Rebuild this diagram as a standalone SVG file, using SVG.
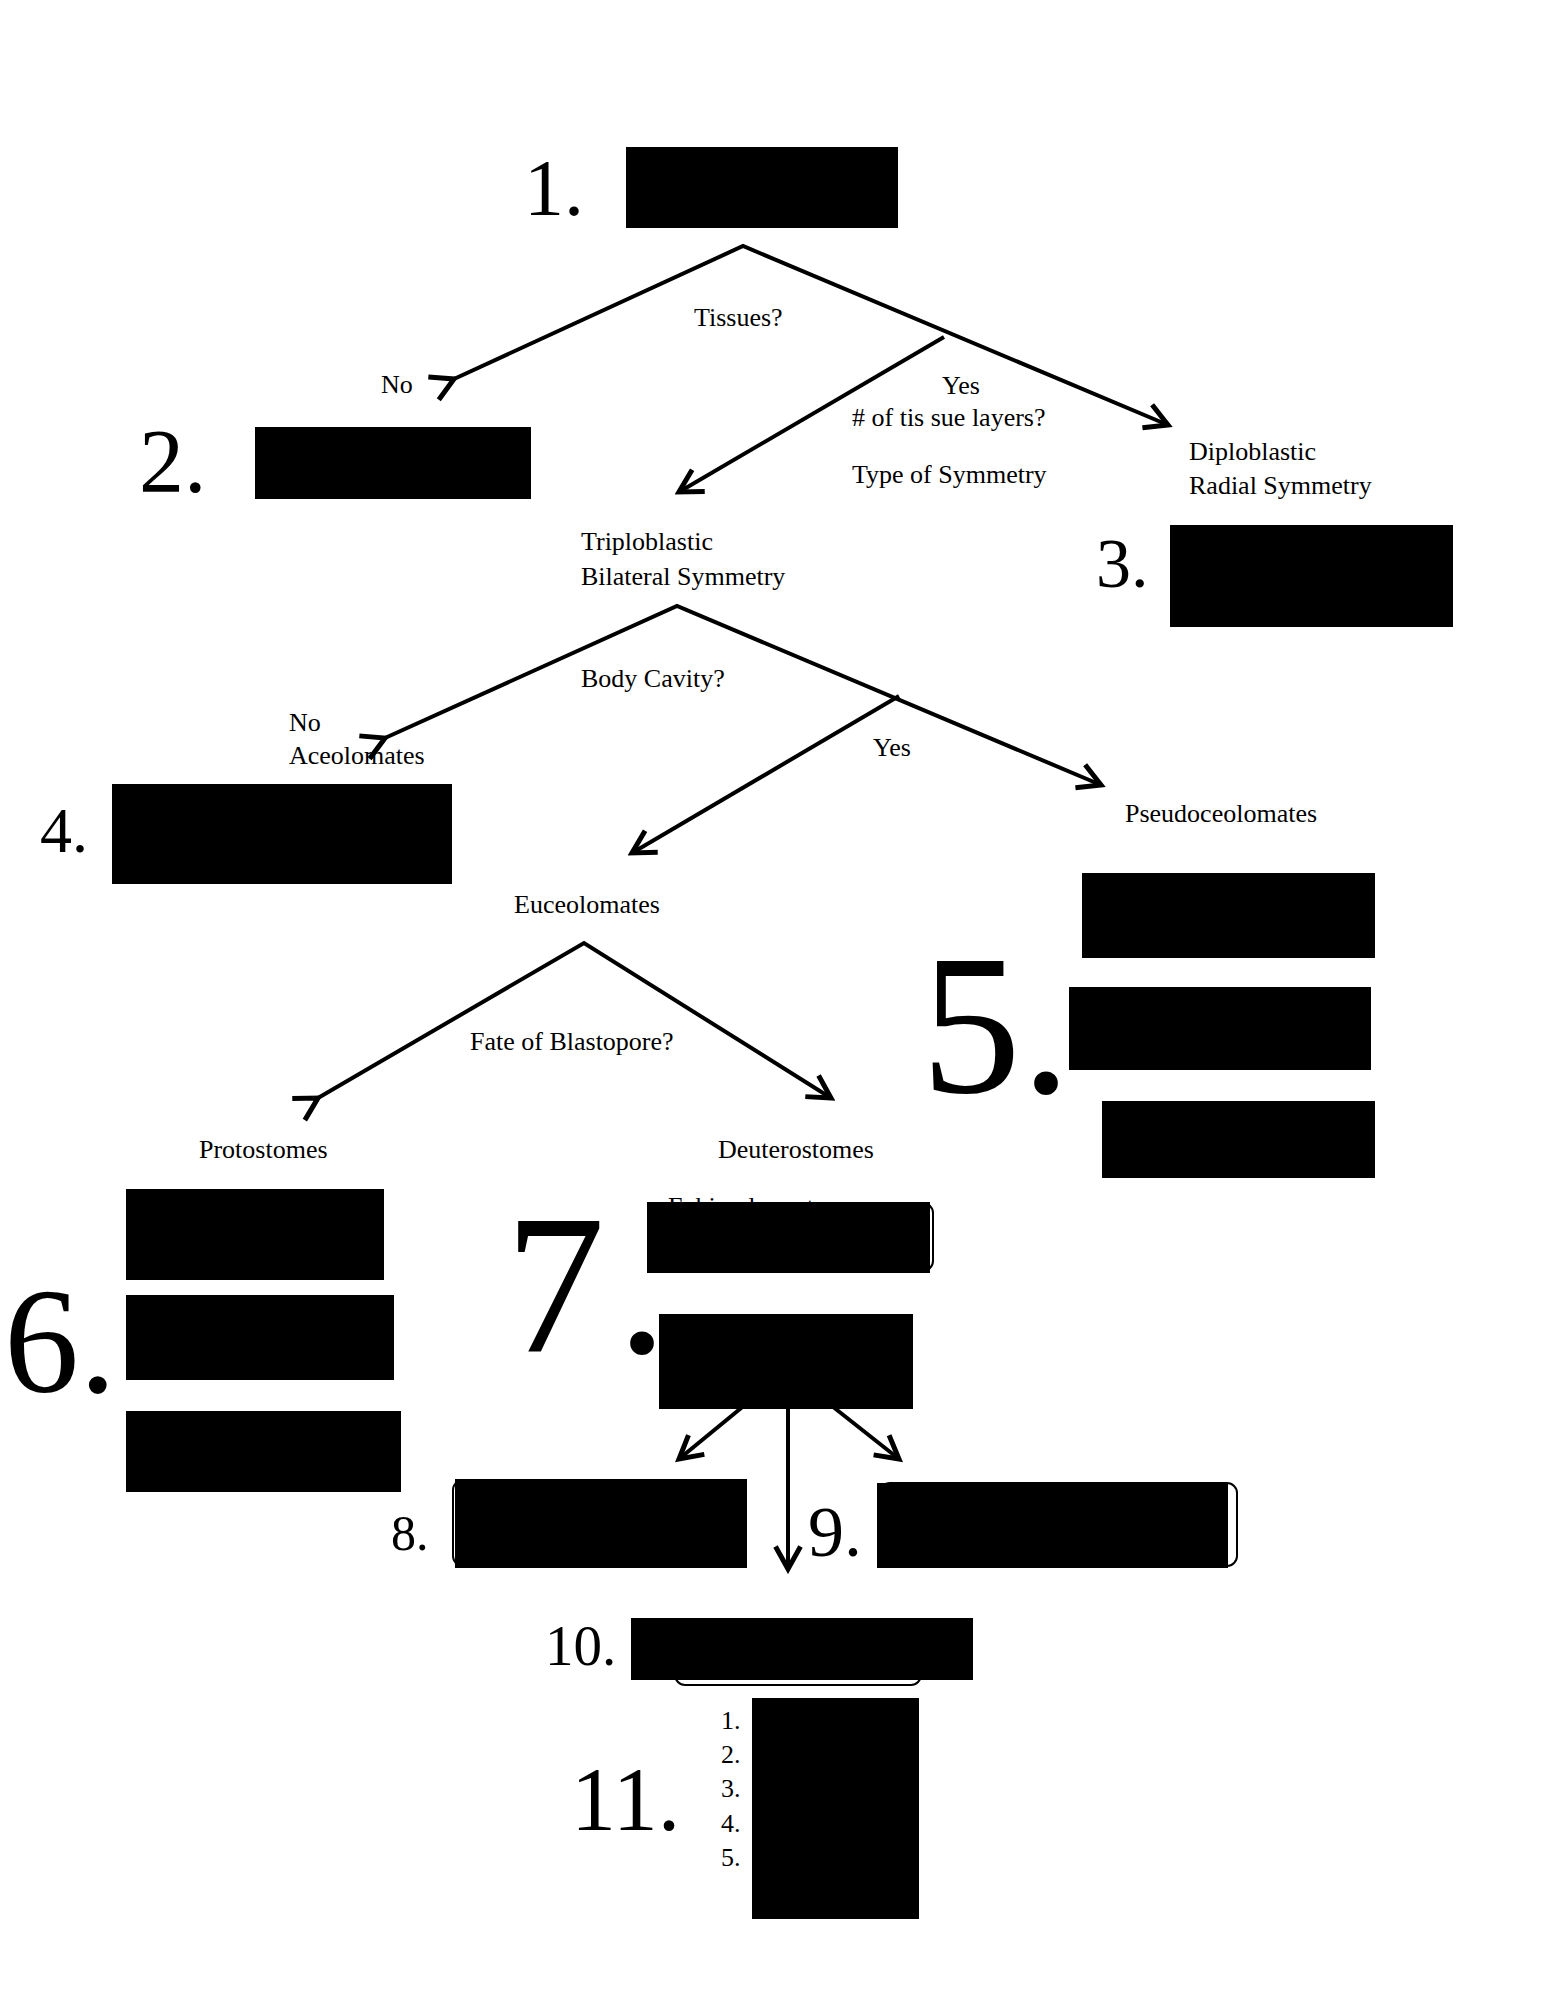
<svg xmlns="http://www.w3.org/2000/svg" width="1545" height="2000" viewBox="0 0 1545 2000">
<style>
text{font-family:"Liberation Serif","DejaVu Serif",serif;fill:#000}
.t{font-size:26px}
.b{fill:#000}
.c{stroke:#000;stroke-width:4;fill:none}
.o{stroke:#000;stroke-width:2;fill:none}
</style>
<defs>
<marker id="a" markerUnits="userSpaceOnUse" markerWidth="30" markerHeight="30" refX="20" refY="12" orient="auto" viewBox="0 0 24 24">
<path d="M2,2 L20,12 L2,22" fill="none" stroke="#000" stroke-width="4"/>
</marker>
</defs>
<rect width="1545" height="2000" fill="#fff"/>
<g id="connectors">
<polyline class="c" points="454,379 743,246 1168,425" marker-start="url(#a)" marker-end="url(#a)"/>
<line class="c" x1="944" y1="337" x2="679" y2="492" marker-end="url(#a)"/>
<polyline class="c" points="385,738 677,606 1101,785" marker-start="url(#a)" marker-end="url(#a)"/>
<line class="c" x1="899" y1="696" x2="632" y2="853" marker-end="url(#a)"/>
<polyline class="c" points="318,1098 584,943 831,1098" marker-start="url(#a)" marker-end="url(#a)"/>
<line class="c" x1="757" y1="1395" x2="679" y2="1459" marker-end="url(#a)"/>
<line class="c" x1="788" y1="1395" x2="788" y2="1569" marker-end="url(#a)"/>
<line class="c" x1="818" y1="1395" x2="899" y2="1459" marker-end="url(#a)"/>
</g>
<g id="labels">
<text class="t" x="694" y="326">Tissues?</text>
<text class="t" x="381" y="393">No</text>
<text class="t" x="942" y="394">Yes</text>
<text class="t" x="852" y="426"># of tis sue layers?</text>
<text class="t" x="852" y="483">Type of Symmetry</text>
<text class="t" x="581" y="687">Body Cavity?</text>
<text class="t" x="873" y="756">Yes</text>
<text class="t" x="470" y="1050">Fate of Blastopore?</text>
</g>
<g id="n1"><text x="524" y="215" font-size="80">1.</text><rect class="b" x="626" y="147" width="272" height="81"/></g>
<g id="n2"><text x="139" y="492" font-size="90">2.</text><rect class="b" x="255" y="427" width="276" height="72"/></g>
<g id="diplo"><text class="t" x="1189" y="460">Diploblastic</text><text class="t" x="1189" y="494">Radial Symmetry</text></g>
<g id="n3"><text x="1096" y="587" font-size="70">3.</text><rect class="b" x="1170" y="525" width="283" height="102"/></g>
<g id="triplo"><text class="t" x="581" y="550">Triploblastic</text><text class="t" x="581" y="585">Bilateral Symmetry</text></g>
<g id="acoel"><text class="t" x="289" y="731">No</text><text class="t" x="289" y="764">Aceolomates</text></g>
<g id="pseudo"><text class="t" x="1125" y="822">Pseudoceolomates</text></g>
<g id="n4"><text x="40" y="852" font-size="64">4.</text><rect class="b" x="112" y="784" width="340" height="100"/></g>
<g id="euc"><text class="t" x="514" y="913">Euceolomates</text></g>
<g id="n5"><text x="921" y="1092" font-size="200">5.</text>
<rect class="b" x="1082" y="873" width="293" height="85"/><rect class="b" x="1069" y="987" width="302" height="83"/><rect class="b" x="1102" y="1101" width="273" height="77"/></g>
<g id="proto"><text class="t" x="199" y="1158">Protostomes</text></g>
<g id="deut"><text class="t" x="718" y="1158">Deuterostomes</text></g>
<g id="n6"><text x="4" y="1392" font-size="150">6.</text>
<rect class="b" x="126" y="1189" width="258" height="91"/><rect class="b" x="126" y="1295" width="268" height="85"/><rect class="b" x="126" y="1411" width="275" height="81"/></g>
<g id="n7"><text x="505" y="1352" font-size="200">7<tspan dx="12">.</tspan></text>
<text class="t" x="668" y="1215" font-size="30">Echinodermata</text>
<rect class="o" x="660" y="1203" width="273" height="68" rx="10"/>
<rect class="b" x="647" y="1202" width="283" height="71"/>
<rect class="b" x="659" y="1314" width="254" height="95"/></g>
<g id="n8"><text x="391" y="1550" font-size="50">8.</text><rect class="o" x="453" y="1480" width="290" height="86" rx="10"/><rect class="b" x="455" y="1479" width="292" height="89"/></g>
<g id="n9"><text x="808" y="1556" font-size="72">9.</text><rect class="o" x="880" y="1483" width="357" height="83" rx="10"/><rect class="b" x="877" y="1483" width="351" height="85"/></g>
<g id="n10"><text x="545" y="1665" font-size="57">10.</text><rect class="o" x="675" y="1625" width="246" height="60" rx="10"/><rect class="b" x="631" y="1618" width="342" height="62"/></g>
<g id="n11"><text x="571" y="1830" font-size="90">11.</text>
<text class="t" x="721" y="1729">1.</text><text class="t" x="721" y="1763">2.</text><text class="t" x="721" y="1797">3.</text><text class="t" x="721" y="1832">4.</text><text class="t" x="721" y="1866">5.</text>
<rect class="b" x="752" y="1698" width="167" height="221"/></g>
</svg>
